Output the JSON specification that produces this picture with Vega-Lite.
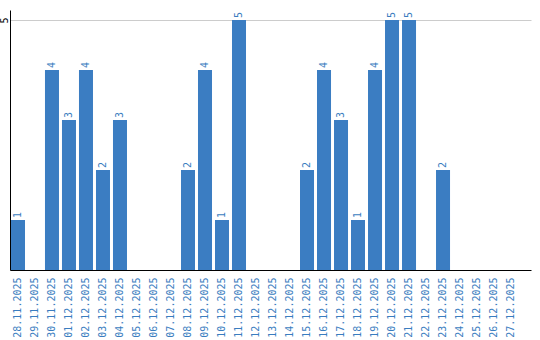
{
  "$schema": "https://vega.github.io/schema/vega-lite/v6.json",
  "autosize": {"type": "none"},
  "padding": {"left": 10, "top": 10, "right": 9, "bottom": 70},
  "width": 521,
  "height": 260,
  "background": "white",
  "config": {"view": {"stroke": null}},
  "data": {"values": [
    {"date": "28.11.2025", "count": 1},
    {"date": "29.11.2025", "count": 0},
    {"date": "30.11.2025", "count": 4},
    {"date": "01.12.2025", "count": 3},
    {"date": "02.12.2025", "count": 4},
    {"date": "03.12.2025", "count": 2},
    {"date": "04.12.2025", "count": 3},
    {"date": "05.12.2025", "count": 0},
    {"date": "06.12.2025", "count": 0},
    {"date": "07.12.2025", "count": 0},
    {"date": "08.12.2025", "count": 2},
    {"date": "09.12.2025", "count": 4},
    {"date": "10.12.2025", "count": 1},
    {"date": "11.12.2025", "count": 5},
    {"date": "12.12.2025", "count": 0},
    {"date": "13.12.2025", "count": 0},
    {"date": "14.12.2025", "count": 0},
    {"date": "15.12.2025", "count": 2},
    {"date": "16.12.2025", "count": 4},
    {"date": "17.12.2025", "count": 3},
    {"date": "18.12.2025", "count": 1},
    {"date": "19.12.2025", "count": 4},
    {"date": "20.12.2025", "count": 5},
    {"date": "21.12.2025", "count": 5},
    {"date": "22.12.2025", "count": 0},
    {"date": "23.12.2025", "count": 2},
    {"date": "24.12.2025", "count": 0},
    {"date": "25.12.2025", "count": 0},
    {"date": "26.12.2025", "count": 0},
    {"date": "27.12.2025", "count": 0}
  ]},
  "encoding": {
    "x": {
      "field": "date", "type": "nominal", "sort": null,
      "scale": {"paddingInner": 0.176, "paddingOuter": 0.41, "align": 0.07},
      "axis": {
        "title": null, "ticks": false, "domainColor": "#000", "domainWidth": 1,
        "labelAngle": 270, "labelAlign": "right", "labelBaseline": "middle",
        "labelPadding": 7, "labelFont": "DejaVu Sans Mono", "labelFontSize": 10,
        "labelColor": "#3a7dc0", "grid": false, "labelOverlap": false
      }
    },
    "y": {
      "field": "count", "type": "quantitative",
      "scale": {"domain": [0, 5.2], "nice": false},
      "axis": {
        "title": null, "ticks": false, "domainColor": "#000", "values": [5],
        "grid": true, "gridColor": "#cccccc", "labelAngle": 270,
        "labelAlign": "center", "labelBaseline": "middle", "labelPadding": 6,
        "labelFont": "DejaVu Sans Mono", "labelFontSize": 10, "labelColor": "#000"
      }
    }
  },
  "layer": [
    {"mark": {"type": "bar", "color": "#3b7dc2"}},
    {
      "transform": [{"filter": "datum.count > 0"}],
      "mark": {"type": "text", "angle": 270, "align": "left", "baseline": "middle", "dx": 2,
               "font": "DejaVu Sans Mono", "fontSize": 10, "color": "#3a7dc0"},
      "encoding": {"text": {"field": "count", "type": "quantitative"}}
    }
  ]
}
